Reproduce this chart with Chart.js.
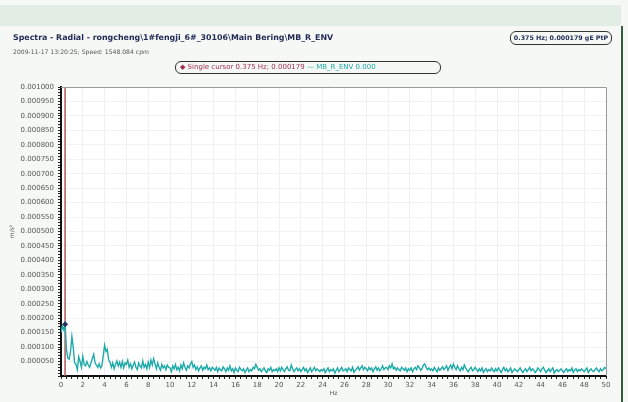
<!DOCTYPE html>
<html>
<head>
<meta charset="utf-8">
<script src="https://cdn.jsdelivr.net/npm/chart.js"></script>
<style>
  body { margin:0; width:628px; height:402px; background:#f6f8f6; overflow:hidden; position:relative;
         font-family:"DejaVu Sans", Verdana, sans-serif; }
  #band { position:absolute; left:0; top:5px; width:621px; height:21px; background:#e2eee3; }
  #edge { position:absolute; left:621px; top:26px; width:2px; height:376px; background:#2f5f3f; }
  #chart { position:absolute; left:0; top:0; }
  .title { position:absolute; left:13px; top:33px; font-size:7.9px; font-weight:bold; color:#1f2752; white-space:nowrap; }
  .sub { position:absolute; left:13px; top:48px; font-size:6.1px; color:#555; white-space:nowrap; }
  .valbox { position:absolute; left:510px; top:31px; width:100px; height:12px; border:1px solid #333; border-radius:6px;
            font-size:6.3px; font-weight:bold; color:#1f2752; line-height:12px; text-align:center; white-space:nowrap; }
  .legend { position:absolute; left:175px; top:61px; width:264px; height:11px; border:1px solid #333; border-radius:6px;
            font-size:7px; line-height:11px; white-space:nowrap; }
  .legend .cur { color:#a3304f; margin-left:4px; }
  .legend .ser { color:#22a8a8; }
</style>
</head>
<body>
<div id="band"></div>
<div id="edge"></div>
<canvas id="chart" width="628" height="402"></canvas>
<div class="title">Spectra - Radial - rongcheng\1#fengji_6#_30106\Main Bering\MB_R_ENV</div>
<div class="sub">2009-11-17 13:20:25; Speed: 1548.084 cpm</div>
<div class="valbox">0.375 Hz; 0.000179 gE PtP</div>
<div class="legend"><span class="cur">&#9670; Single cursor 0.375 Hz; 0.000179</span> <span class="ser">&mdash; MB_R_ENV 0.000</span></div>
<script>
  // spectrum bins, 0.125 Hz apart, 0 .. 50 Hz
  const binWidth = 0.125;
  // amplitude per bin in micro m/s^2, one row = 2 Hz
  const ampMicro = [
    150,172,160,179, 92, 62, 58, 85,136, 98, 46, 40, 22, 66, 50, 30,
     68, 40, 35, 50, 38, 30, 45, 60, 75, 45, 38, 30, 42, 28, 35, 70,
    107, 85, 92, 55, 48, 30, 45, 25, 40, 52, 35, 48, 30, 50, 28, 45,
     40, 55, 30, 42, 25, 38, 48, 30, 22, 45, 35, 28, 52, 30, 40, 25,
     48, 30, 55, 38, 60, 42, 25, 45, 30, 20, 40, 28, 35, 22, 38, 30,
     28, 15, 35, 25, 40, 22, 30, 18, 38, 25, 45, 30, 20, 35, 28, 42,
     50, 30, 38, 22, 32, 18, 28, 35, 20, 30, 25, 38, 22, 28, 18, 30,
     25, 20, 30, 15, 28, 22, 18, 32, 25, 15, 28, 20, 35, 18, 25, 12,
     28, 20, 15, 30, 22, 18, 25, 12, 20, 28, 15, 22, 18, 30, 25, 40,
     30, 20, 25, 15, 22, 28, 18, 12, 25, 20, 30, 15, 22, 18, 25, 15,
     28, 18, 30, 22, 15, 25, 32, 20, 18, 38, 25, 15, 22, 28, 18, 25,
     15, 22, 30, 18, 25, 12, 20, 28, 15, 22, 30, 18, 25, 20, 15, 22,
     18, 25, 12, 20, 28, 15, 22, 18, 25, 10, 20, 28, 15, 22, 30, 18,
     20, 25, 15, 28, 22, 18, 30, 12, 20, 25, 32, 20, 28, 35, 22, 30,
     25, 18, 30, 22, 28, 15, 25, 32, 20, 28, 18, 25, 35, 22, 28, 30,
     22, 35, 28, 42, 25, 30, 20, 28, 22, 18, 30, 25, 20, 28, 15, 25,
     20, 28, 15, 25, 30, 22, 35, 28, 20, 25, 38, 42, 30, 22, 28, 20,
     25, 18, 30, 22, 15, 28, 20, 25, 32, 22, 28, 35, 20, 30, 38, 25,
     42, 30, 22, 35, 25, 18, 30, 22, 38, 28, 20, 15, 25, 30, 18, 22,
     30, 22, 15, 25, 18, 28, 12, 20, 25, 15, 22, 18, 28, 20, 15, 25,
     18, 28, 20, 12, 22, 30, 18, 25, 15, 20, 28, 12, 18, 25, 20, 15,
     22, 28, 18, 12, 20, 25, 15, 22, 30, 18, 25, 20, 12, 18, 28, 22,
     15, 25, 30, 20, 12, 18, 25, 15, 22, 28, 10, 18, 22, 15, 20, 25,
     18, 12, 20, 25, 15, 22, 18, 28, 12, 20, 25, 15, 22, 18, 25, 20,
     15, 22, 28, 12, 20, 25, 18, 15, 22, 28, 20, 15, 25, 18, 22, 30,
     25
  ];
  const cursorHz = 0.375;
  const cursorValue = 0.000179;

  const spectrum = ampMicro.map((v, i) => ({ x: i * binWidth, y: v / 1e6 }));

  const plotDecor = {
    id: 'plotDecor',
    beforeDraw(chart) {
      const a = chart.chartArea, c = chart.ctx;
      c.save();
      c.fillStyle = '#ffffff';
      c.fillRect(a.left, a.top, a.right - a.left, a.bottom - a.top);
      c.restore();
    },
    beforeDatasetsDraw(chart) {
      const a = chart.chartArea, c = chart.ctx;
      const x = chart.scales.x.getPixelForValue(cursorHz);
      c.save();
      c.strokeStyle = '#b0585e';
      c.lineWidth = 1.5;
      c.beginPath();
      c.moveTo(x, a.top);
      c.lineTo(x, a.bottom);
      c.stroke();
      c.restore();
    },
    afterDraw(chart) {
      const a = chart.chartArea, c = chart.ctx;
      c.save();
      c.strokeStyle = '#9a9a9a';
      c.lineWidth = 1;
      c.beginPath();
      c.moveTo(a.left, a.top + 0.5);
      c.lineTo(a.right + 0.5, a.top + 0.5);
      c.lineTo(a.right + 0.5, a.bottom);
      c.stroke();
      c.restore();
    }
  };

  const labelFont = { family: 'DejaVu Sans', size: 7 };

  new Chart(document.getElementById('chart'), {
    type: 'line',
    data: {
      datasets: [
        {
          label: 'Single cursor',
          type: 'scatter',
          data: [{ x: cursorHz, y: cursorValue }],
          pointStyle: 'rectRot',
          pointRadius: 2.5,
          backgroundColor: '#2a2f5a',
          borderColor: '#2a2f5a'
        },
        {
          label: 'MB_R_ENV',
          data: spectrum,
          borderColor: '#1faaaa',
          borderWidth: 1.4,
          pointRadius: 0,
          tension: 0
        }
      ]
    },
    options: {
      responsive: false,
      animation: false,
      devicePixelRatio: 1,
      layout: { padding: { top: 87, right: 22, left: 0, bottom: 0 } },
      plugins: { legend: { display: false }, tooltip: { enabled: false } },
      scales: {
        x: {
          type: 'linear',
          min: 0, max: 50,
          afterFit(s) { s.height = 26; },
          ticks: {
            stepSize: 0.5, autoSkip: false, maxRotation: 0, padding: 2,
            color: '#555', font: labelFont,
            callback: v => (Math.abs(v % 2) < 1e-9 ? String(v) : '')
          },
          grid: {
            color: ctx => (ctx.tick && Math.abs(ctx.tick.value % 2) < 1e-9 ? '#eef1ee' : 'rgba(0,0,0,0)'),
            tickColor: '#222', tickLength: 3
          },
          border: { color: '#111', width: 2 },
          title: { display: true, text: 'Hz', color: '#555', font: { family: 'DejaVu Sans', size: 6 }, padding: { top: 0, bottom: 5 } }
        },
        y: {
          min: 0, max: 0.001,
          afterFit(s) { s.width = 61; },
          ticks: {
            stepSize: 0.00001, autoSkip: false, padding: 4,
            color: '#555', font: labelFont,
            callback: v => {
              const k = Math.round(v * 1e5);
              return (k > 0 && k % 5 === 0) ? v.toFixed(6) : '';
            }
          },
          grid: {
            color: ctx => (ctx.tick && Math.round(ctx.tick.value * 1e5) % 5 === 0 ? '#f1f3f1' : 'rgba(0,0,0,0)'),
            tickColor: '#222', tickLength: 3
          },
          border: { color: '#111', width: 2 },
          title: { display: true, text: 'm/s²', color: '#555', font: { family: 'DejaVu Sans', size: 6 }, padding: { top: 9, bottom: 0 } }
        }
      }
    },
    plugins: [plotDecor]
  });
</script>
</body>
</html>
